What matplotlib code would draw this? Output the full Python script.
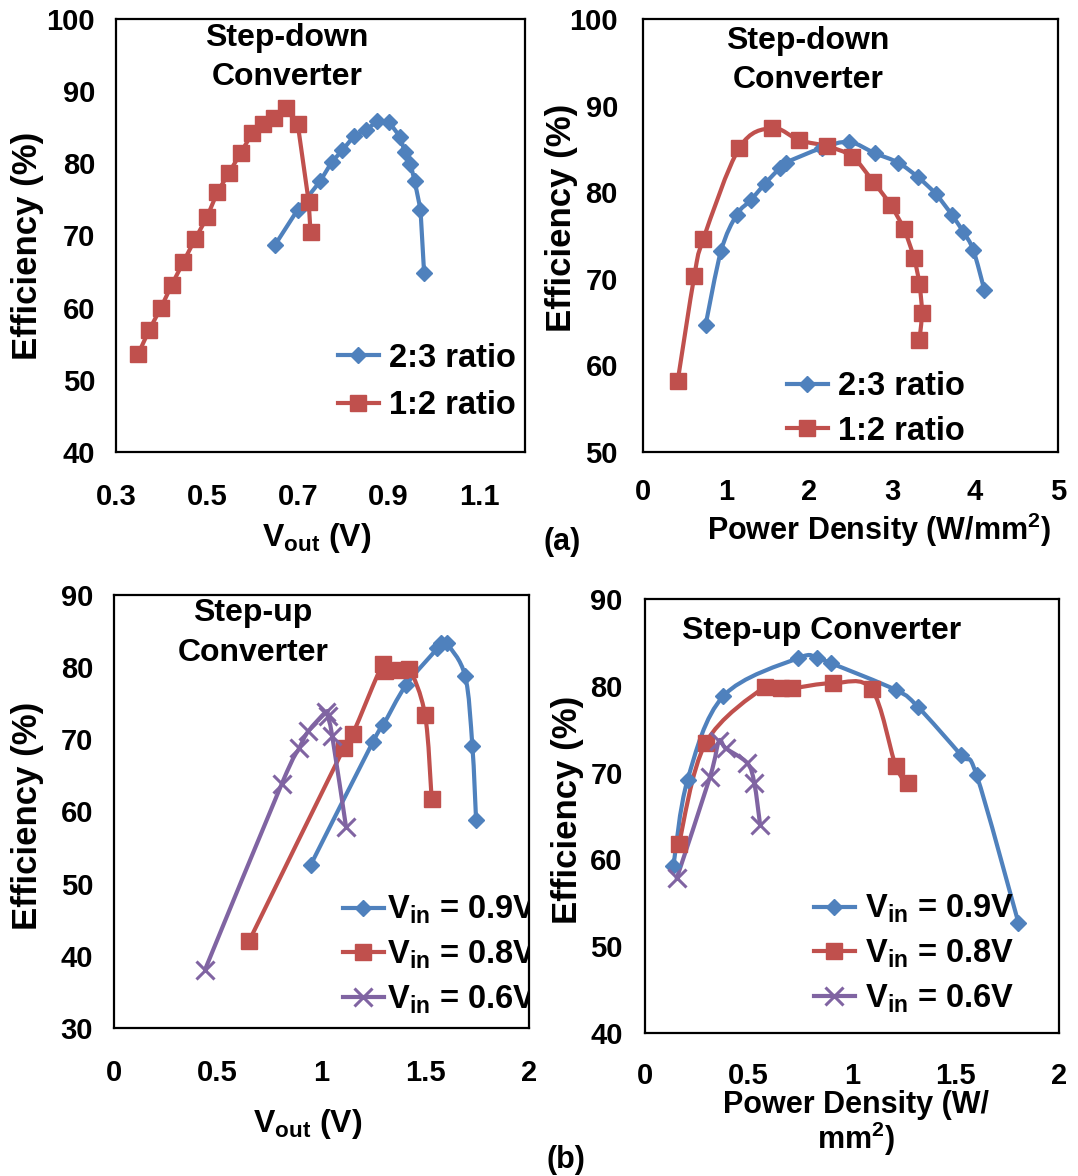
import matplotlib
matplotlib.use("Agg")
import matplotlib.pyplot as plt
from matplotlib.path import Path
from matplotlib.patches import PathPatch
from matplotlib.lines import Line2D

plt.rcParams["font.family"] = ["Liberation Sans", "DejaVu Sans"]
plt.rcParams["font.weight"] = "bold"
plt.rcParams["mathtext.fontset"] = "custom"
plt.rcParams["mathtext.rm"] = "Liberation Sans:bold"
plt.rcParams["mathtext.it"] = "Liberation Sans:bold"
plt.rcParams["mathtext.bf"] = "Liberation Sans:bold"
plt.rcParams["mathtext.default"] = "bf"

BLUE = "#4F81BD"
RED = "#C0504D"
PURPLE = "#8064A2"

# (a) step-down, efficiency vs Vout
a_vout_23 = [0.650, 0.700, 0.749, 0.775, 0.798, 0.824, 0.850, 0.874, 0.901, 0.926, 0.935, 0.948, 0.957, 0.970, 0.978]
a_eff_23 = [68.7, 73.6, 77.5, 80.2, 81.8, 83.8, 84.6, 85.8, 85.7, 83.6, 81.6, 79.9, 77.6, 73.6, 64.8]
a_vout_12 = [0.349, 0.373, 0.399, 0.423, 0.448, 0.474, 0.500, 0.523, 0.548, 0.574, 0.600, 0.624, 0.648, 0.674, 0.700, 0.724, 0.728]
a_eff_12 = [53.6, 56.9, 60.0, 63.2, 66.3, 69.5, 72.5, 76.0, 78.6, 81.4, 84.2, 85.4, 86.3, 87.6, 85.4, 74.7, 70.5]

# (a) step-down, efficiency vs power density
a_pd_23 = [0.755, 0.94, 1.129, 1.301, 1.47, 1.651, 1.719, 2.153, 2.482, 2.795, 3.076, 3.317, 3.527, 3.72, 3.86, 3.98, 4.113]
a_pdeff_23 = [64.7, 73.2, 77.4, 79.1, 81.0, 82.8, 83.4, 85.1, 85.8, 84.5, 83.4, 81.7, 79.8, 77.4, 75.4, 73.3, 68.7]
a_pd_12 = [0.418, 0.618, 0.727, 1.16, 1.554, 1.883, 2.22, 2.52, 2.775, 2.985, 3.145, 3.265, 3.33, 3.36, 3.33]
a_pdeff_12 = [58.2, 70.3, 74.6, 85.1, 87.4, 86.0, 85.3, 84.1, 81.2, 78.5, 75.7, 72.4, 69.4, 66.1, 62.9]

# (b) step-up, efficiency vs Vout
b_vout_09 = [0.948, 1.247, 1.298, 1.407, 1.558, 1.574, 1.603, 1.692, 1.727, 1.745]
b_eff_09 = [52.6, 69.6, 72.0, 77.5, 82.6, 83.4, 83.3, 78.8, 69.1, 58.8]
b_vout_08 = [0.652, 1.108, 1.150, 1.295, 1.306, 1.378, 1.423, 1.499, 1.531]
b_eff_08 = [42.1, 68.8, 70.7, 80.5, 79.4, 79.6, 79.8, 73.4, 61.7]
b_vout_06 = [0.439, 0.808, 0.893, 0.936, 1.022, 1.030, 1.052, 1.118]
b_eff_06 = [38.1, 63.8, 68.8, 71.1, 73.8, 73.2, 70.4, 57.9]

# (b) step-up, efficiency vs power density
b_pd_09 = [0.137, 0.206, 0.378, 0.741, 0.829, 0.899, 1.213, 1.317, 1.527, 1.602, 1.804]
b_pdeff_09 = [59.2, 69.2, 78.8, 83.2, 83.2, 82.6, 79.5, 77.6, 72.0, 69.7, 52.7]
b_pd_08 = [0.164, 0.293, 0.58, 0.657, 0.709, 0.907, 1.095, 1.211, 1.269]
b_pdeff_08 = [61.8, 73.4, 79.9, 79.7, 79.7, 80.3, 79.6, 70.8, 68.8]
b_pd_06 = [0.153, 0.314, 0.357, 0.39, 0.494, 0.528, 0.556]
b_pdeff_06 = [57.8, 69.5, 73.6, 72.8, 71.1, 68.8, 64.0]

W, H = 1078, 1176
fig = plt.figure(figsize=(W / 100, H / 100), dpi=100)


def box(l, t, r, b):
    return [l / W, 1 - b / H, (r - l) / W, (b - t) / H]


def ftext(x, y, s, size, **kw):
    return fig.text(x / W, 1 - y / H, s, fontsize=size, fontweight="bold", **kw)


def smooth(ax, xs, ys, color, lw=3):
    # excel-like smoothed line through the points (catmull-rom as bezier)
    pts = list(zip(xs, ys))
    n = len(pts)
    verts = [pts[0]]
    codes = [Path.MOVETO]
    for i in range(n - 1):
        p0 = pts[max(i - 1, 0)]
        p1 = pts[i]
        p2 = pts[i + 1]
        p3 = pts[min(i + 2, n - 1)]
        c1 = (p1[0] + (p2[0] - p0[0]) / 6, p1[1] + (p2[1] - p0[1]) / 6)
        c2 = (p2[0] - (p3[0] - p1[0]) / 6, p2[1] - (p3[1] - p1[1]) / 6)
        verts += [c1, c2, p2]
        codes += [Path.CURVE4] * 3
    ax.add_patch(PathPatch(Path(verts, codes), facecolor="none", edgecolor=color,
                           lw=lw, joinstyle="round", capstyle="round"))


def style(ax, xlim, xticks, xlabels, ylim, yticks, ypad, xpad=22):
    ax.set_xlim(xlim)
    ax.set_ylim(ylim)
    ax.set_xticks(xticks)
    ax.set_xticklabels(xlabels)
    ax.set_yticks(yticks)
    ax.tick_params(length=0, labelsize=21)
    ax.tick_params(axis="x", pad=xpad)
    ax.tick_params(axis="y", pad=ypad)
    for s in ax.spines.values():
        s.set_linewidth(1.6)
        s.set_color("black")


MK = dict(
    D=dict(marker="D", ms=8.5, mec=BLUE, mfc=BLUE),
    s=dict(marker="s", ms=11, mec=RED, mfc=RED),
    x=dict(marker="x", ms=13, mew=2.2, mec=PURPLE),
)


def legend(x, y, labels, keys, colors, size=23.5, spacing=0.5, textpad=0.3, clip_ax=None):
    handles = [Line2D([], [], color=c, lw=3, **MK[k]) for k, c in zip(keys, colors)]
    leg = fig.legend(handles, labels, loc="center left", bbox_to_anchor=(x / W, 1 - y / H),
                     bbox_transform=fig.transFigure, frameon=False, borderpad=0,
                     borderaxespad=0, handlelength=1.25, handletextpad=textpad,
                     labelspacing=spacing, prop=dict(size=size, weight="bold"))
    if clip_ax is not None:
        # the reference cuts the legend text at the plot border
        for t in leg.get_texts():
            t.set_clip_box(clip_ax.bbox)
            t.set_clip_on(True)
    return leg


ax1 = fig.add_axes(box(116, 19, 525, 452))
ax2 = fig.add_axes(box(643, 19, 1058, 452))
ax3 = fig.add_axes(box(114, 595, 529, 1028))
ax4 = fig.add_axes(box(645, 599, 1059, 1033))

style(ax1, (0.3, 1.2), [0.3, 0.5, 0.7, 0.9, 1.1], ["0.3", "0.5", "0.7", "0.9", "1.1"],
      (40, 100), range(40, 101, 10), 15)
style(ax2, (0, 5), range(6), [str(i) for i in range(6)], (50, 100), range(50, 101, 10), 18,
      xpad=19)
style(ax3, (0, 2), [0, 0.5, 1, 1.5, 2], ["0", "0.5", "1", "1.5", "2"],
      (30, 90), range(30, 91, 10), 15)
style(ax4, (0, 2), [0, 0.5, 1, 1.5, 2], ["0", "0.5", "1", "1.5", "2"],
      (40, 90), range(40, 91, 10), 16, xpad=21)

# panel (a) left: straight segments
ax1.plot(a_vout_23, a_eff_23, color=BLUE, lw=3, **MK["D"])
ax1.plot(a_vout_12, a_eff_12, color=RED, lw=3, **MK["s"])

# panel (a) right
smooth(ax2, a_pd_23, a_pdeff_23, BLUE)
smooth(ax2, a_pd_12, a_pdeff_12, RED)
ax2.plot(a_pd_23, a_pdeff_23, ls="none", **MK["D"])
ax2.plot(a_pd_12, a_pdeff_12, ls="none", **MK["s"])

# panel (b) left
smooth(ax3, b_vout_09, b_eff_09, BLUE)
smooth(ax3, b_vout_08, b_eff_08, RED)
smooth(ax3, b_vout_06, b_eff_06, PURPLE)
ax3.plot(b_vout_09, b_eff_09, ls="none", **MK["D"])
ax3.plot(b_vout_08, b_eff_08, ls="none", **MK["s"])
ax3.plot(b_vout_06, b_eff_06, ls="none", **MK["x"])

# panel (b) right
smooth(ax4, b_pd_09, b_pdeff_09, BLUE)
smooth(ax4, b_pd_08, b_pdeff_08, RED)
smooth(ax4, b_pd_06, b_pdeff_06, PURPLE)
ax4.plot(b_pd_09, b_pdeff_09, ls="none", **MK["D"])
ax4.plot(b_pd_08, b_pdeff_08, ls="none", **MK["s"])
ax4.plot(b_pd_06, b_pdeff_06, ls="none", **MK["x"])

# legends
legend(338, 382, ["2:3 ratio", "1:2 ratio"], ["D", "s"], [BLUE, RED], spacing=0.5)
legend(787, 409, ["2:3 ratio", "1:2 ratio"], ["D", "s"], [BLUE, RED], spacing=0.4)
vin = ["V$_{in}$ = 0.9V", "V$_{in}$ = 0.8V", "V$_{in}$ = 0.6V"]
legend(343, 955, vin, ["D", "s", "x"], [BLUE, RED, PURPLE], spacing=0.38, textpad=0.1,
       clip_ax=ax3)
legend(814, 954, vin, ["D", "s", "x"], [BLUE, RED, PURPLE], spacing=0.38)

# in-plot titles
ftext(287, 38, "Step-down", 23, ha="center", va="center")
ftext(287, 77, "Converter", 23, ha="center", va="center")
ftext(808, 41, "Step-down", 23, ha="center", va="center")
ftext(808, 80, "Converter", 23, ha="center", va="center")
ftext(253, 613, "Step-up", 23, ha="center", va="center")
ftext(253, 653, "Converter", 23, ha="center", va="center")
ftext(822, 631, "Step-up Converter", 23, ha="center", va="center")

# axis labels
for x, y in [(28, 246), (562, 218), (28, 816), (567, 810)]:
    ftext(x, y, "Efficiency (%)", 25, ha="center", va="center", rotation=90)
ftext(317, 546, "V$_{out}$ (V)", 23, ha="center", va="baseline")
ftext(879, 540, "Power Density (W/mm$^{2}$)", 22, ha="center", va="baseline")
ftext(308, 1132, "V$_{out}$ (V)", 23, ha="center", va="baseline")
ftext(856, 1149, "Power Density (W/\nmm$^{2}$)", 22, ha="center", va="baseline",
      multialignment="center", linespacing=1.0)

ftext(562, 542, "(a)", 22, ha="center", va="center")
ftext(566, 1160, "(b)", 22, ha="center", va="center")

fig.savefig("out.png", dpi=100)
